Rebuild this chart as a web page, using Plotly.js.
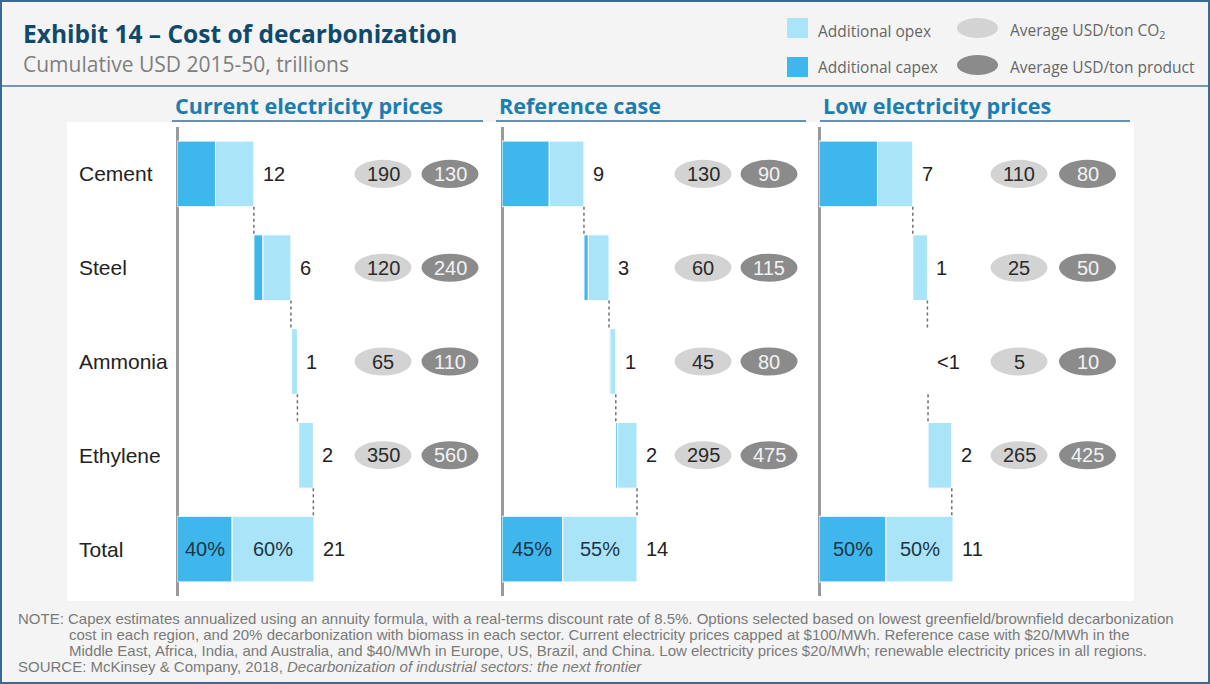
<!DOCTYPE html>
<html>
<head>
<meta charset="utf-8">
<script src="https://cdn.plot.ly/plotly-3.0.1.min.js"></script>
<style>
  html, body { margin: 0; padding: 0; background: #f4f4f4; }
  #chart { width: 1210px; height: 684px; }
</style>
</head>
<body>
<div id="chart"></div>
<script>
// rows of the waterfall
const sectors = ['Cement', 'Steel', 'Ammonia', 'Ethylene'];
const rows = ['Cement', 'Steel', 'Ammonia', 'Ethylene', 'Total'];
const panelTitles = ['Current electricity prices', 'Reference case', 'Low electricity prices'];

// USD trillions
const capexCurrent = [5.85, 1.4, 0.1, 0.2];
const opexCurrent = [5.9, 4.3, 0.9, 2.25];
const capexReference = [4.9, 0.45, 0.1, 0.2];
const opexReference = [3.6, 2.15, 0.6, 2.0];
const capexLow = [4.8, 0, 0, 0];
const opexLow = [2.9, 1.2, 0.05, 1.95];

const totals = [21, 14, 11];
const capexShare = [0.40, 0.45, 0.50];

const labelsCurrent = ['12', '6', '1', '2', '21'];
const labelsReference = ['9', '3', '1', '2', '14'];
const labelsLow = ['7', '1', '<1', '2', '11'];

// average USD/ton CO2 and USD/ton product
const co2Current = [190, 120, 65, 350];
const productCurrent = [130, 240, 110, 560];
const co2Reference = [130, 60, 45, 295];
const productReference = [90, 115, 80, 475];
const co2Low = [110, 25, 5, 265];
const productLow = [80, 50, 10, 425];

const panels = [
  { capex: capexCurrent, opex: opexCurrent, labels: labelsCurrent, co2: co2Current, product: productCurrent },
  { capex: capexReference, opex: opexReference, labels: labelsReference, co2: co2Reference, product: productReference },
  { capex: capexLow, opex: opexLow, labels: labelsLow, co2: co2Low, product: productLow }
];

const W = 1210, H = 684;
const px = x => x / W;
const py = y => 1 - y / H;

const OPEX = '#aae4f8';
const CAPEX = '#3fb7ec';
const LIGHT = '#d3d3d3';
const DARK = '#8b8b8b';
const SANS = 'Liberation Sans, Arial, sans-serif';
const GOTHIC = 'Open Sans, sans-serif';

// layout of each panel in pixels
const zeroPx = [177.5, 502, 819];
const rightPx = [483, 806, 1130];
const totalBarPx = [136.5, 135, 134];
const lightPx = [383, 703, 1019];
const darkPx = [450, 769, 1087.5];
const titlePx = [173, 497, 821];

const traces = [];
const shapes = [];
const annotations = [];

// white plot panel
shapes.push({ type: 'rect', xref: 'paper', yref: 'paper', x0: px(67), x1: px(1134), y0: py(601), y1: py(122),
  fillcolor: '#ffffff', line: { width: 0 }, layer: 'below' });

const layout = {
  width: W, height: H,
  margin: { l: 0, r: 0, t: 0, b: 0 },
  paper_bgcolor: '#f4f4f4',
  plot_bgcolor: 'rgba(0,0,0,0)',
  showlegend: false,
  barmode: 'overlay',
  bargap: 0.3,
  yaxis: {
    type: 'category', categoryarray: rows, range: [4.5, -0.5],
    domain: [py(596), py(127)], anchor: 'x',
    showticklabels: false, showgrid: false, zeroline: false, showline: false, ticks: ''
  }
};

panels.forEach((p, i) => {
  const ax = i === 0 ? 'x' : 'x' + (i + 1);
  const axKey = i === 0 ? 'xaxis' : 'xaxis' + (i + 1);
  const xmax = (rightPx[i] - zeroPx[i]) / totalBarPx[i] * totals[i];
  layout[axKey] = {
    domain: [px(zeroPx[i]), px(rightPx[i])], range: [0, xmax], anchor: 'y',
    showticklabels: false, showgrid: false, showline: false, ticks: '',
    zeroline: true, zerolinecolor: '#9a9a9a', zerolinewidth: 3
  };

  // waterfall bases
  const starts = [];
  const ends = [];
  let run = 0;
  sectors.forEach((s, k) => {
    starts.push(run);
    run += p.capex[k] + p.opex[k];
    ends.push(run);
  });
  const capexTotal = totals[i] * capexShare[i];
  const opexTotal = totals[i] - capexTotal;

  traces.push({
    type: 'bar', orientation: 'h', xaxis: ax, yaxis: 'y',
    y: rows, x: [...p.capex, capexTotal], base: [...starts, 0],
    marker: { color: CAPEX, line: { color: '#ffffff', width: 1 } },
    hoverinfo: 'skip'
  });
  traces.push({
    type: 'bar', orientation: 'h', xaxis: ax, yaxis: 'y',
    y: rows, x: [...p.opex, opexTotal], base: [...starts.map((s, k) => s + p.capex[k]), capexTotal],
    marker: { color: OPEX, line: { color: '#ffffff', width: 1 } },
    hoverinfo: 'skip'
  });

  // dotted connectors
  ends.forEach((e, k) => {
    shapes.push({ type: 'line', xref: ax, yref: 'y', x0: e, x1: e, y0: k + 0.35, y1: k + 0.65,
      line: { color: '#6e6e6e', width: 1.5, dash: 'dot' } });
  });

  // value labels
  [...ends, totals[i]].forEach((e, k) => {
    annotations.push({ xref: ax, yref: 'y', x: e, y: k, xanchor: 'left', xshift: 7,
      text: p.labels[k], showarrow: false, font: { family: SANS, size: 20, color: '#222' } });
  });

  // shares inside total bar
  annotations.push({ xref: ax, yref: 'y', x: capexTotal / 2, y: 4, xanchor: 'center',
    text: Math.round(capexShare[i] * 100) + '%',
    showarrow: false, font: { family: SANS, size: 20, color: '#1d3545' } });
  annotations.push({ xref: ax, yref: 'y', x: capexTotal + opexTotal / 2, y: 4, xanchor: 'center',
    text: Math.round((1 - capexShare[i]) * 100) + '%',
    showarrow: false, font: { family: SANS, size: 20, color: '#1d3545' } });

  // ellipses
  sectors.forEach((s, k) => {
    shapes.push({ type: 'circle', xref: 'paper', yref: 'y', x0: px(lightPx[i] - 28.5), x1: px(lightPx[i] + 28.5),
      y0: k - 0.15, y1: k + 0.15, fillcolor: LIGHT, line: { width: 0 } });
    shapes.push({ type: 'circle', xref: 'paper', yref: 'y', x0: px(darkPx[i] - 28.5), x1: px(darkPx[i] + 28.5),
      y0: k - 0.15, y1: k + 0.15, fillcolor: DARK, line: { width: 0 } });
    annotations.push({ xref: 'paper', yref: 'y', x: px(lightPx[i]), y: k, xanchor: 'center', text: String(p.co2[k]),
      showarrow: false, font: { family: SANS, size: 20, color: '#2a2a2a' } });
    annotations.push({ xref: 'paper', yref: 'y', x: px(darkPx[i]), y: k, xanchor: 'center', text: String(p.product[k]),
      showarrow: false, font: { family: SANS, size: 20, color: '#f2f2f2' } });
  });

  // panel title and underline
  annotations.push({ xref: 'paper', yref: 'paper', x: px(titlePx[i]), y: py(105), xanchor: 'left', yanchor: 'middle',
    text: '<b>' + panelTitles[i] + '</b>', showarrow: false, font: { family: GOTHIC, size: 21.6, color: '#1b7db0' } });
  shapes.push({ type: 'line', xref: 'paper', yref: 'paper', x0: px(titlePx[i] - 1), x1: px(rightPx[i]),
    y0: py(121), y1: py(121), line: { color: '#3b7194', width: 1.5 } });
});

// category labels
rows.forEach((r, k) => {
  annotations.push({ xref: 'paper', yref: 'y', x: px(77), y: k, xanchor: 'left', text: r,
    showarrow: false, font: { family: SANS, size: 21, color: '#222' } });
});

// header
annotations.push({ xref: 'paper', yref: 'paper', x: px(22), y: py(34), xanchor: 'left', yanchor: 'middle',
  text: '<b>Exhibit 14 – Cost of decarbonization</b>', showarrow: false, borderpad: 0,
  font: { family: GOTHIC, size: 24.5, color: '#0f4a6e' } });
annotations.push({ xref: 'paper', yref: 'paper', x: px(22), y: py(64), xanchor: 'left', yanchor: 'middle',
  text: 'Cumulative USD 2015-50, trillions', showarrow: false, borderpad: 0,
  font: { family: GOTHIC, size: 21, color: '#7f7f7f' } });

// legend
shapes.push({ type: 'rect', xref: 'paper', yref: 'paper', x0: px(787), x1: px(808), y0: py(38), y1: py(18),
  fillcolor: OPEX, line: { width: 0 } });
shapes.push({ type: 'rect', xref: 'paper', yref: 'paper', x0: px(787), x1: px(808), y0: py(77), y1: py(57),
  fillcolor: CAPEX, line: { width: 0 } });
shapes.push({ type: 'circle', xref: 'paper', yref: 'paper', x0: px(957), x1: px(998), y0: py(38), y1: py(18),
  fillcolor: LIGHT, line: { width: 0 } });
shapes.push({ type: 'circle', xref: 'paper', yref: 'paper', x0: px(957), x1: px(998), y0: py(75), y1: py(55),
  fillcolor: DARK, line: { width: 0 } });
const legendText = [
  ['Additional opex', 816, 31], ['Additional capex', 816, 67],
  ['Average USD/ton CO<sub>2</sub>', 1008, 31], ['Average USD/ton product', 1008, 67]
];
legendText.forEach(t => {
  annotations.push({ xref: 'paper', yref: 'paper', x: px(t[1]), y: py(t[2]), xanchor: 'left', yanchor: 'middle',
    text: t[0], showarrow: false, font: { family: GOTHIC, size: 15.5, color: '#666' } });
});

// footnote
const notes = [
  ['NOTE: Capex estimates annualized using an annuity formula, with a real-terms discount rate of 8.5%. Options selected based on lowest greenfield/brownfield decarbonization', 16, 618],
  ['cost in each region, and 20% decarbonization with biomass in each sector. Current electricity prices capped at $100/MWh. Reference case with $20/MWh in the', 67, 634],
  ['Middle East, Africa, India, and Australia, and $40/MWh in Europe, US, Brazil, and China. Low electricity prices $20/MWh; renewable electricity prices in all regions.', 67, 650],
  ['SOURCE: McKinsey &amp; Company, 2018, <i>Decarbonization of industrial sectors: the next frontier</i>', 16, 666]
];
notes.forEach(n => {
  annotations.push({ xref: 'paper', yref: 'paper', x: px(n[1]), y: py(n[2]), xanchor: 'left', yanchor: 'middle',
    text: n[0], showarrow: false, font: { family: SANS, size: 15, color: '#7a7a7a' } });
});

// frame lines
shapes.push({ type: 'line', xref: 'paper', yref: 'paper', x0: 0, x1: 1, y0: py(86), y1: py(86),
  line: { color: '#4f7896', width: 1.5 } });
shapes.push({ type: 'rect', xref: 'paper', yref: 'paper', x0: px(1), x1: px(1209), y0: py(683), y1: py(1),
  line: { color: '#3a6a94', width: 2 } });

layout.shapes = shapes;
layout.annotations = annotations;

Plotly.newPlot('chart', traces, layout, { displayModeBar: false, staticPlot: true });
</script>
</body>
</html>
